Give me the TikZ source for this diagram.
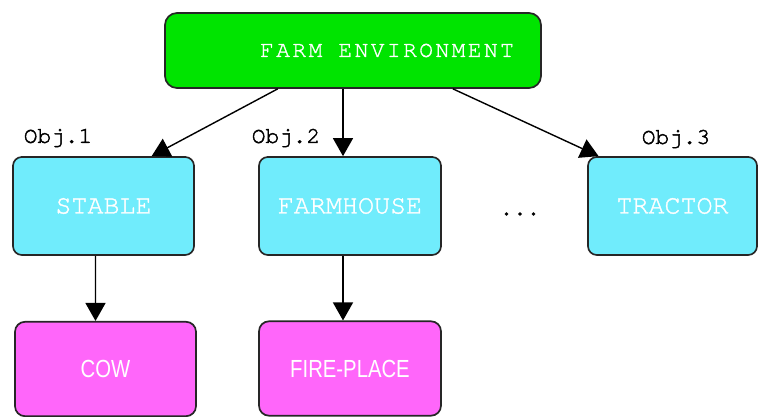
\documentclass[tikz,border=0pt]{standalone}
\usepackage{fontspec}
\usepackage{tikz}
\usetikzlibrary{arrows.meta,positioning}
\newfontfamily\boxfont[FakeBold=1.3]{texgyrecursor-regular.otf}
\newfontfamily\envfont[LetterSpace=11,FakeBold=1.3]{texgyrecursor-regular.otf}
\newfontfamily\labelfont[FakeBold=1.8]{texgyrecursor-regular.otf}
\newfontfamily\partfont[FakeStretch=0.82]{Liberation Sans}
\definecolor{envgreen}{RGB}{0,228,0}
\definecolor{objcyan}{RGB}{112,236,252}
\definecolor{partpink}{RGB}{255,102,250}
\tikzset{
  envbox/.style={draw=black!85, line width=1.2pt, fill=envgreen, rounded corners=0.3cm, minimum width=9.4cm, minimum height=1.875cm, text=white, font=\envfont\fontsize{16.2pt}{19pt}\selectfont},
  objbox/.style={draw=black!85, line width=1.2pt, fill=objcyan, rounded corners=0.22cm, minimum height=2.45cm, text=white, font=\boxfont\fontsize{19pt}{22pt}\selectfont},
  partbox/.style={draw=black!85, line width=1.2pt, fill=partpink, rounded corners=0.25cm, minimum width=4.525cm, minimum height=2.36cm, text=white, font=\partfont\fontsize{17.6pt}{20pt}\selectfont},
  objlabel/.style={font=\labelfont\fontsize{16.2pt}{19pt}\selectfont},
  arr/.style={line width=1pt, -{Triangle[width=0.5cm,length=0.45cm]}}
}
\begin{document}
\begin{tikzpicture}
        \useasboundingbox (0,0) rectangle (18.95,-10.425);
        % Top node
        \node[envbox] (env) at (8.825,-1.2625) {\hspace{1.7cm}FARM ENVIRONMENT};
        
        % Objects in the environment
        \node[objbox, minimum width=4.525cm] (stable) at (2.5875,-5.15) {STABLE};
        \node[objbox, minimum width=4.55cm] (farmhouse) at (8.75,-5.15) {FARMHOUSE};
        \node[objbox, minimum width=4.225cm] (tractor) at (16.8125,-5.15) {TRACTOR};
        \node[font=\labelfont\fontsize{16pt}{19pt}\selectfont] (dots) at (13.0,-5.35) {...};
        
        % Object labels
        \node[objlabel] (obj1) at (1.45,-3.45) {Obj.1};
        \node[objlabel] (obj2) at (7.15,-3.45) {Obj.2};
        \node[objlabel] (obj3) at (16.9,-3.475) {Obj.3};
        
        % Parts of the objects
        \node[partbox] (cow) at (2.6375,-9.225) {COW};
        \node[partbox, minimum width=4.55cm] (fireplace) at (8.75,-9.2125) {FIRE-PLACE};
        
        % Connect the nodes
        \draw[arr] (env.207.5) -- (stable.46.5);
        \draw[arr] ([xshift=-0.175cm]farmhouse.north |- env.south) -- ([xshift=-0.175cm]farmhouse.north);
        \draw[arr] (env.339.4) -- (tractor.146);
        \draw[arr] ([xshift=-0.2cm]stable.south) -- ([xshift=-0.25cm]cow.north);
        \draw[arr] ([xshift=-0.175cm]farmhouse.south) -- ([xshift=-0.175cm]fireplace.north);
    \end{tikzpicture}
\end{document}
